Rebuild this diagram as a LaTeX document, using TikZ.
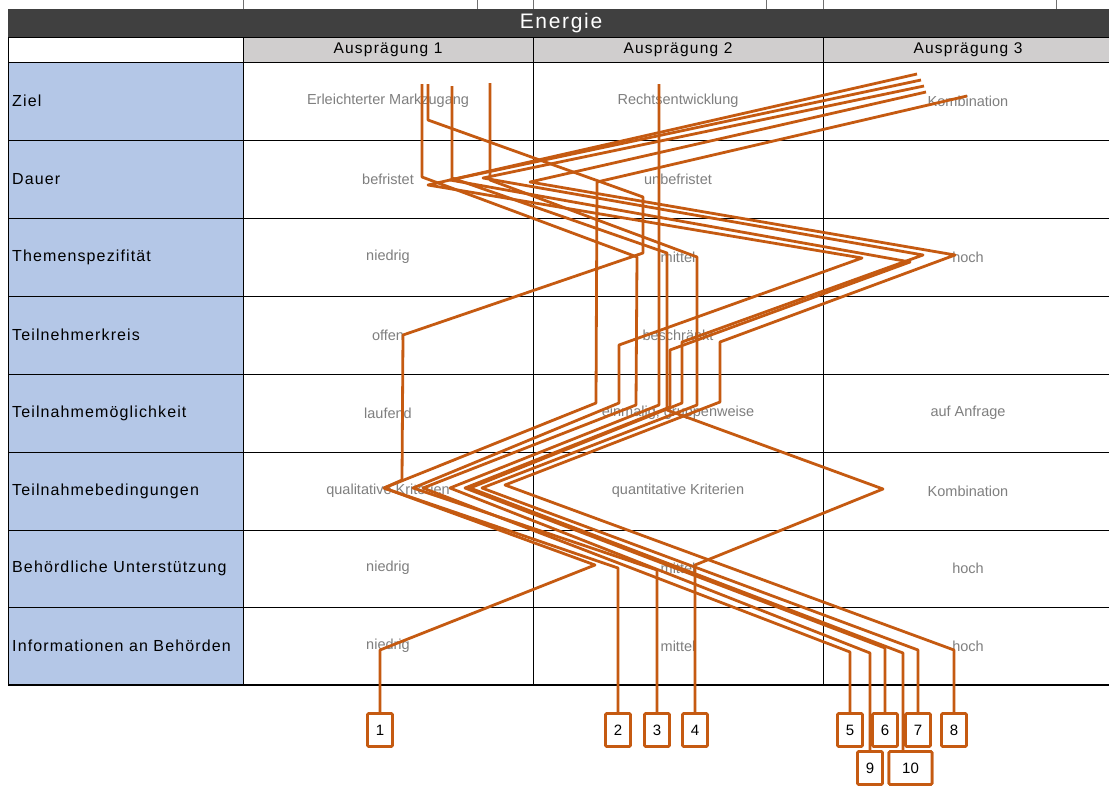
\documentclass[tikz,border=0pt]{standalone}
\usepackage{fontspec}
\setmainfont{Liberation Sans}
\newfontfamily\spacedfont[LetterSpace=7]{Liberation Sans}
\newfontfamily\headfont[LetterSpace=8]{Liberation Sans}
\definecolor{lineor}{HTML}{C55A11}
\definecolor{titlebg}{HTML}{404040}
\definecolor{hdrgray}{HTML}{D0CECE}
\definecolor{labelblue}{HTML}{B4C7E7}
\definecolor{cellgray}{HTML}{7F7F7F}
\definecolor{tickgray}{HTML}{707070}
\begin{document}
\begin{tikzpicture}[x=1pt,y=-1pt,
  grid/.style={draw=black,line width=0.8pt},
  rowlabel/.style={anchor=west,inner sep=0pt,font=\spacedfont\fontsize{16}{19}\selectfont},
  colhead/.style={inner sep=0pt,font=\headfont\fontsize{15.5}{18}\selectfont},
  cell/.style={inner sep=0pt,text=cellgray,font=\fontsize{14.5}{17}\selectfont},
  pl/.style={draw=lineor,line width=2.8pt,line join=round},
  numbox/.style={draw=lineor,line width=2.6pt,fill=white,minimum width=25pt,
    minimum height=33pt,inner sep=0pt,rounded corners=1.2pt,font=\fontsize{15}{18}\selectfont}]
\useasboundingbox (0,0) rectangle (1109,785);
\fill[white] (0,0) rectangle (1109,785);

% title bar with the grid ticks above it
\foreach \tx in {243,477,533,766,823,1056} \draw[tickgray,line width=0.7pt] (\tx,0) -- (\tx,9);
\fill[titlebg] (8,9) rectangle (1109,37);
\node[text=white,inner sep=0pt,font=\headfont\fontsize{21}{24}\selectfont] (title) at (561,23) {Energie};

% header row and label column
\fill[hdrgray] (243,37) rectangle (1109,62);
\fill[labelblue] (8,62) rectangle (243,685);
\foreach \gy in {37,62,140,218,296,374,452,530,607} \draw[grid] (8,\gy) -- (1109,\gy);
\draw[black,line width=2pt] (8,685) -- (1109,685);
\foreach \gx in {8,243,533,823} \draw[grid] (\gx,37) -- (\gx,685);

\node[colhead] (h1) at (388,50) {Ausprägung 1};
\node[colhead] (h2) at (678,50) {Ausprägung 2};
\node[colhead] (h3) at (968,50) {Ausprägung 3};

% row labels
\node[rowlabel] (r1) at (12,101) {Ziel};
\node[rowlabel] (r2) at (12,179) {Dauer};
\node[rowlabel] (r3) at (12,257) {Themenspezifität};
\node[rowlabel] (r4) at (12,335) {Teilnehmerkreis};
\node[rowlabel] (r5) at (12,413) {Teilnahmemöglichkeit};
\node[rowlabel] (r6) at (12,491) {Teilnahmebedingungen};
\node[rowlabel] (r7) at (12,568) {Behördliche Unterstützung};
\node[rowlabel] (r8) at (12,646) {Informationen an Behörden};

% cell values
\node[cell] (c11) at (388,101) {Erleichterter Markzugang};
\node[cell] (c12) at (678,101) {Rechtsentwicklung};
\node[cell] (c13) at (968,101) {Kombination};
\node[cell] (c21) at (388,179) {befristet};
\node[cell] (c22) at (678,179) {unbefristet};
\node[cell] (c31) at (388,257) {niedrig};
\node[cell] (c32) at (678,257) {mittel};
\node[cell] (c33) at (968,257) {hoch};
\node[cell] (c41) at (388,335) {offen};
\node[cell] (c42) at (678,335) {beschränkt};
\node[cell] (c51) at (388,413) {laufend};
\node[cell] (c52) at (678,413) {einmalig, gruppenweise};
\node[cell] (c53) at (968,413) {auf Anfrage};
\node[cell] (c61) at (388,491) {qualitative Kriterien};
\node[cell] (c62) at (678,491) {quantitative Kriterien};
\node[cell] (c63) at (968,491) {Kombination};
\node[cell] (c71) at (388,568) {niedrig};
\node[cell] (c72) at (678,568) {mittel};
\node[cell] (c73) at (968,568) {hoch};
\node[cell] (c81) at (388,646) {niedrig};
\node[cell] (c82) at (678,646) {mittel};
\node[cell] (c83) at (968,646) {hoch};

% numbered end boxes
\node[numbox] (b1) at (380,730) {1};
\node[numbox] (b2) at (618,730) {2};
\node[numbox] (b3) at (657,730) {3};
\node[numbox] (b4) at (695,730) {4};
\node[numbox] (b5) at (850,730) {5};
\node[numbox] (b6) at (885,730) {6};
\node[numbox] (b7) at (918,730) {7};
\node[numbox] (b8) at (954,730) {8};
\node[numbox] (b9) at (870,768) {9};
\node[numbox,minimum width=43pt] (b10) at (910.5,768) {10};

% profile lines, one per numbered box
\coordinate (p10) at (903,653);
\draw[pl] (428,84) -- (428,120) -- (643,197) -- (643,253) -- (403,335) -- (402,480) -- (384,488) -- (595,565) -- (380,650) -- (b1.north);
\draw[pl] (967,96) -- (597,182) -- (596,403) -- (384,488) -- (618,568) -- (b2.north);
\draw[pl] (917,74) -- (428,185) -- (862,258) -- (619,345) -- (619,403) -- (413,488) -- (657,570) -- (b3.north);
\draw[pl] (452,86) -- (452,178) -- (667,253) -- (667,410) -- (883,489) -- (695,565) -- (b4.north);
\draw[pl] (422,84) -- (422,177) -- (637,257) -- (636,405) -- (423,488) -- (850,652) -- (b5.north);
\draw[pl] (921,80) -- (450,180) -- (910,262) -- (670,350) -- (670,407) -- (465,488) -- (885,648) -- (b6.north);
\draw[pl] (490,83) -- (490,180) -- (697,257) -- (697,405) -- (482,488) -- (918,650) -- (b7.north);
\draw[pl] (926,92) -- (530,182) -- (955,255) -- (720,342) -- (720,402) -- (505,485) -- (954,650) -- (b8.north);
\draw[pl] (659,84) -- (659,405) -- (450,488) -- (870,653) -- (b9.north);
\draw[pl] (924,86) -- (483,178) -- (923,255) -- (682,342) -- (682,403) -- (470,488) -- (p10) -- (p10 |- b10.north);

% boxes again on top of the lines
\foreach \b/\t in {b1/1,b2/2,b3/3,b4/4,b5/5,b6/6,b7/7,b8/8,b9/9}
  \node[numbox] at (\b) {\t};
\node[numbox,minimum width=43pt] at (b10) {10};
\end{tikzpicture}
\end{document}
